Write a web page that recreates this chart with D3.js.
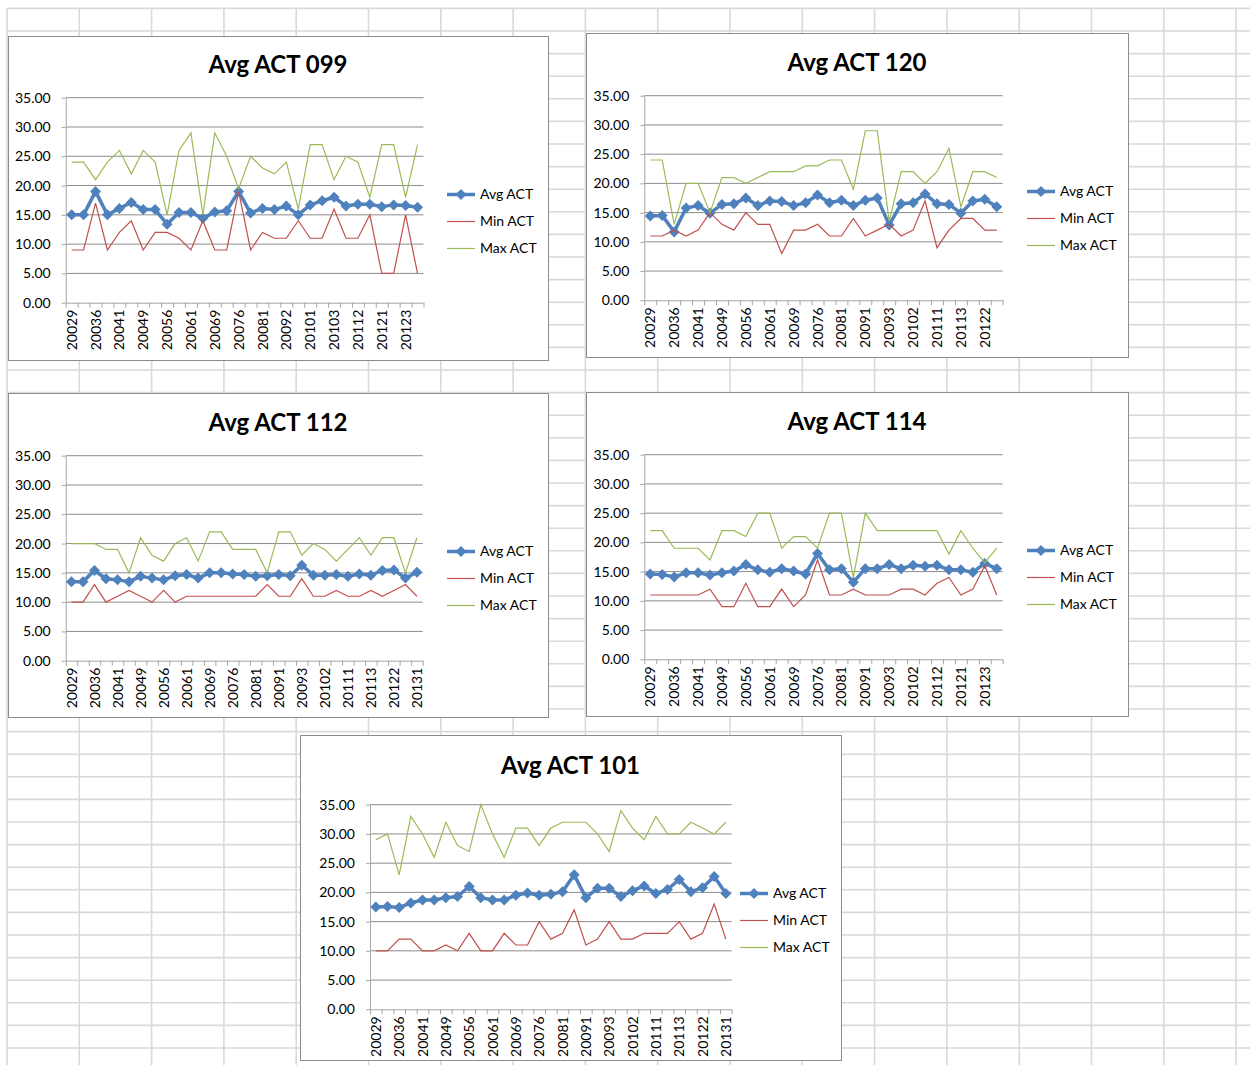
<!DOCTYPE html>
<html><head><meta charset="utf-8">
<script src="https://cdn.jsdelivr.net/npm/d3@7"></script>
<style>
html,body{margin:0;padding:0;background:#fff;}
svg{display:block;font-family:Lato,"Open Sans",sans-serif;}
</style></head><body>
<svg id="c" width="1250" height="1065"></svg>
<script>
// ---------- data ----------
const cats099 = ["20029","20033","20036","20039","20041","20043","20049","20053","20056","20059","20061","20063","20069","20073","20076","20079","20081","20089","20092","20099","20101","20102","20103","20111","20112","20113","20121","20122","20123","20131"];
const cats120 = ["20029","20033","20036","20039","20041","20043","20049","20053","20056","20059","20061","20063","20069","20073","20076","20079","20081","20089","20091","20092","20093","20101","20102","20103","20111","20112","20113","20121","20122","20123"];
const cats112 = ["20029","20033","20036","20039","20041","20043","20049","20053","20056","20059","20061","20063","20069","20073","20076","20079","20081","20089","20091","20092","20093","20101","20102","20103","20111","20112","20113","20121","20122","20123","20131"];
const cats114 = ["20029","20033","20036","20039","20041","20043","20049","20053","20056","20059","20061","20063","20069","20073","20076","20079","20081","20089","20091","20092","20093","20101","20102","20111","20112","20113","20121","20122","20123","20131"];
const cats101 = ["20029","20033","20036","20039","20041","20043","20049","20053","20056","20059","20061","20063","20069","20073","20076","20079","20081","20089","20091","20092","20093","20101","20102","20103","20111","20112","20113","20121","20122","20123","20131"];

const avg099 = [15.0,15.0,19.0,15.0,16.1,17.1,15.9,15.9,13.4,15.4,15.4,14.4,15.5,15.7,19.0,15.3,16.1,15.9,16.5,15.0,16.7,17.4,18.0,16.5,16.8,16.8,16.4,16.7,16.6,16.3];
const min099 = [9,9,17,9,12,14,9,12,12,11,9,14,9,9,19,9,12,11,11,14,11,11,16,11,11,15,5,5,15,5];
const max099 = [24,24,21,24,26,22,26,24,15,26,29,15,29,25,19.5,25,23,22,24,16,27,27,21,25,24,18,27,27,18,27];

const avg120 = [14.4,14.5,11.7,15.8,16.2,14.9,16.4,16.5,17.5,16.2,17.0,16.9,16.2,16.7,18.0,16.7,17.1,16.2,17.1,17.5,12.9,16.5,16.7,18.2,16.5,16.4,14.9,17.0,17.3,16.0];
const min120 = [11,11,12,11,12,15,13,12,15,13,13,8,12,12,13,11,11,14,11,12,13,11,12,17,9,12,14,14,12,12];
const max120 = [24,24,13,20,20,15,21,21,20,21,22,22,22,23,23,24,24,19,29,29,13.5,22,22,20,22,26,16,22,22,21];

const avg112 = [13.5,13.5,15.4,14.0,13.8,13.5,14.4,14.1,13.8,14.5,14.7,14.1,15.0,15.0,14.8,14.7,14.4,14.5,14.7,14.5,16.3,14.6,14.6,14.7,14.4,14.8,14.6,15.4,15.5,14.1,15.1];
const min112 = [10,10,13,10,11,12,11,10,12,10,11,11,11,11,11,11,11,13,11,11,14,11,11,12,11,11,12,11,12,13,11];
const max112 = [20,20,20,19,19,15,21,18,17,20,21,17,22,22,19,19,19,15,22,22,18,20,19,17,19,21,18,21,21,15,21];

const avg114 = [14.6,14.5,14.1,14.8,14.8,14.4,14.8,15.1,16.2,15.3,14.9,15.5,15.1,14.6,18.1,15.3,15.5,13.2,15.5,15.5,16.2,15.5,16.1,15.9,16.1,15.3,15.3,14.9,16.4,15.5];
const min114 = [11,11,11,11,11,12,9,9,13,9,9,12,9,11,17,11,11,12,11,11,11,12,12,11,13,14,11,12,16,11];
const max114 = [22,22,19,19,19,17,22,22,21,25,25,19,21,21,19,25,25,14,25,22,22,22,22,22,22,18,22,19,16.5,19];

const avg101 = [17.5,17.6,17.4,18.2,18.7,18.7,19.1,19.3,21.0,19.1,18.7,18.7,19.5,19.9,19.5,19.7,20.1,23.0,19.1,20.7,20.7,19.3,20.3,21.1,19.8,20.5,22.2,20.1,20.8,22.7,19.8];
const min101 = [10,10,12,12,10,10,11,10,13,10,10,13,11,11,15,12,13,17,11,12,15,12,12,13,13,13,15,12,13,18,12];
const max101 = [29,30,23,33,30,26,32,28,27,35,30,26,31,31,28,31,32,32,32,30,27,34,31,29,33,30,30,32,31,30,32];

const yTicks = [0,5,10,15,20,25,30,35];
const seriesNames = ["Avg ACT","Min ACT","Max ACT"];
const titles = ["Avg ACT 099","Avg ACT 120","Avg ACT 112","Avg ACT 114","Avg ACT 101"];

// ---------- layout ----------
const COLORS = {avg:"#4f81bd", min:"#c0504d", max:"#9bbb59"};
const charts = [
  {title:titles[0], cats:cats099, avg:avg099, min:min099, max:max099, frame:[8,36,540,324],  plot:[57.7,61.7,415.5,266.7], ty:36.5},
  {title:titles[1], cats:cats120, avg:avg120, min:min120, max:max120, frame:[586,33,542,324], plot:[58.3,62.7,416.7,267.3], ty:37.5},
  {title:titles[2], cats:cats112, avg:avg112, min:min112, max:max112, frame:[8,393,540,324], plot:[57.7,62.7,414.7,267.7], ty:37.5},
  {title:titles[3], cats:cats114, avg:avg114, min:min114, max:max114, frame:[586,392,542,324],plot:[58.3,62.7,416.7,267.3], ty:37.5},
  {title:titles[4], cats:cats101, avg:avg101, min:min101, max:max101, frame:[300,735,541,325],plot:[70,69.7,431.7,274.3], ty:38.5}
];

const svg = d3.select("#c");
svg.append("rect").attr("width",1250).attr("height",1065).attr("fill","#fff");

// spreadsheet grid
const grid = svg.append("g").attr("stroke","#d9d9d9").attr("stroke-width",1.6);
const colXs = d3.range(7, 1250, 72.3);
const rowYs = d3.range(8.4, 1065, 22.6);
grid.selectAll(".gc").data(colXs).join("line").attr("x1",d=>d).attr("x2",d=>d).attr("y1",8.4).attr("y2",1065);
grid.selectAll(".gr").data(rowYs).join("line").attr("x1",7).attr("x2",1250).attr("y1",d=>d).attr("y2",d=>d);

const diamond = "M0,-5.5L5.5,0L0,5.5L-5.5,0Z";

charts.forEach(c => {
  const [fx,fy,fw,fh] = c.frame;
  const [pl,pt,pr,pb] = c.plot;
  const g = svg.append("g").attr("transform",`translate(${fx},${fy})`);
  g.append("rect").attr("x",0.5).attr("y",0.5).attr("width",fw).attr("height",fh)
    .attr("fill","#fff").attr("stroke","#8c8c8c").attr("stroke-width",1);

  g.append("text").attr("x",fw/2).attr("y",c.ty).attr("text-anchor","middle")
    .attr("font-size",24).attr("font-weight","bold").attr("fill","#000").text(c.title);

  const x = d3.scaleBand().domain(c.cats).range([pl,pr]).padding(0);
  const y = d3.scaleLinear().domain([0,35]).range([pb,pt]);
  const cx = d => x(d) + x.bandwidth()/2;

  // gridlines
  g.append("g").selectAll("line").data(yTicks.filter(v=>v>0)).join("line")
    .attr("x1",pl).attr("x2",pr).attr("y1",d=>y(d)).attr("y2",d=>y(d))
    .attr("stroke","#8c8c8c").attr("stroke-width",1);

  // y axis
  const ya = g.append("g").attr("transform",`translate(${pl},0)`)
    .call(d3.axisLeft(y).tickValues(yTicks).tickSize(4).tickSizeOuter(0).tickPadding(11).tickFormat(d3.format(".2f")));
  ya.select(".domain").attr("stroke","#a6a6a6");
  ya.selectAll(".tick line").attr("stroke","#a6a6a6");
  ya.selectAll("text").attr("font-size",14).attr("font-family","Lato,sans-serif").attr("fill","#000");

  // x axis boundary ticks
  const xb = d3.scaleLinear().domain([0,c.cats.length]).range([pl,pr]);
  const xt = g.append("g").attr("transform",`translate(0,${pb})`)
    .call(d3.axisBottom(xb).tickValues(d3.range(c.cats.length+1)).tickSize(5).tickSizeOuter(0).tickFormat(""));
  xt.select(".domain").attr("stroke","#a6a6a6");
  xt.selectAll(".tick line").attr("stroke","#a6a6a6");

  // x labels (every other category)
  const xl = g.append("g").attr("transform",`translate(0,${pb})`)
    .call(d3.axisBottom(x).tickValues(c.cats.filter((d,i)=>i%2===0)).tickSize(0).tickPadding(0));
  xl.select(".domain").remove();
  xl.selectAll("text").attr("transform","rotate(-90)").attr("text-anchor","end")
    .attr("x",-7).attr("y",0).attr("dy","0.36em")
    .attr("font-size",14).attr("font-family","Lato,sans-serif").attr("fill","#000");

  const line = d3.line().x((d,i)=>cx(c.cats[i])).y(d=>y(d));

  // Avg
  g.append("path").datum(c.avg).attr("d",line).attr("fill","none")
    .attr("stroke",COLORS.avg).attr("stroke-width",3.5).attr("stroke-linejoin","round");
  g.append("g").selectAll("path").data(c.avg).join("path")
    .attr("d",diamond).attr("transform",(d,i)=>`translate(${cx(c.cats[i])},${y(d)})`)
    .attr("fill",COLORS.avg);
  // Min
  g.append("path").datum(c.min).attr("d",line).attr("fill","none")
    .attr("stroke",COLORS.min).attr("stroke-width",1.2);
  // Max
  g.append("path").datum(c.max).attr("d",line).attr("fill","none")
    .attr("stroke",COLORS.max).attr("stroke-width",1.2);

  // legend
  const lg = g.append("g");
  const ly = [158.5,185.5,212.5];
  const lcol = [COLORS.avg,COLORS.min,COLORS.max];
  seriesNames.forEach((s,i)=>{
    lg.append("line").attr("x1",fw-101).attr("x2",fw-73).attr("y1",ly[i]).attr("y2",ly[i])
      .attr("stroke",lcol[i]).attr("stroke-width",i===0?3.5:1.2);
    if(i===0) lg.append("path").attr("d",diamond).attr("transform",`translate(${fw-87},${ly[i]})`).attr("fill",COLORS.avg);
    lg.append("text").attr("x",fw-68).attr("y",ly[i]).attr("dy","0.35em")
      .attr("font-size",14).attr("fill","#000").text(s);
  });
});
</script>
</body></html>
